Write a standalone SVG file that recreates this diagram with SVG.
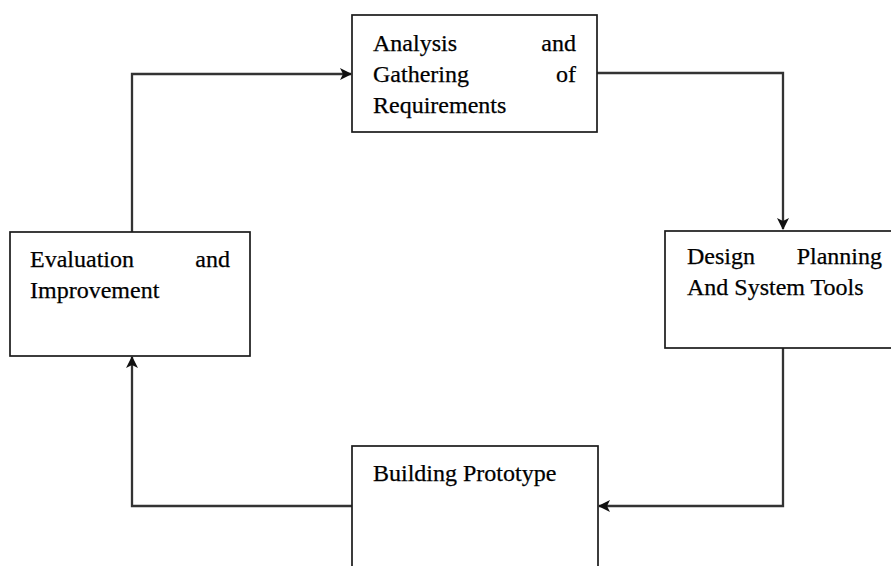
<svg xmlns="http://www.w3.org/2000/svg" width="891" height="566" viewBox="0 0 891 566">
<style>
.box{fill:#fff;stroke:#1a1a1a;stroke-width:1.7}
.t{font-family:"Liberation Serif","Times New Roman",serif;font-size:24px;fill:#000;stroke:#000;stroke-width:0.25}
.e{text-anchor:end}
.c{fill:none;stroke:#333;stroke-width:2.3}
</style>
<defs>
<marker id="ah" viewBox="0 0 12 12" refX="11" refY="6" markerWidth="12" markerHeight="12" markerUnits="userSpaceOnUse" orient="auto">
<path d="M0,0 L12,6 L0,12 L3,6 Z" fill="#111"/>
</marker>
</defs>
<rect width="891" height="566" fill="#fff"/>
<g id="connectors">
<path class="c" d="M132,232 V74 H351" marker-end="url(#ah)"/>
<path class="c" d="M597,73 H783 V229" marker-end="url(#ah)"/>
<path class="c" d="M783,348 V506 H599" marker-end="url(#ah)"/>
<path class="c" d="M352,506 H132 V357" marker-end="url(#ah)"/>
</g>
<g id="analysis">
<rect class="box" x="352" y="15" width="245" height="117"/>
<text class="t" x="373" y="51">Analysis</text>
<text class="t e" x="576" y="51">and</text>
<text class="t" x="373" y="82">Gathering</text>
<text class="t e" x="576" y="82">of</text>
<text class="t" x="373" y="113">Requirements</text>
</g>
<g id="design">
<rect class="box" x="665" y="231" width="240" height="117"/>
<text class="t" x="687" y="264">Design</text>
<text class="t e" x="882" y="264">Planning</text>
<text class="t" x="687" y="295">And System Tools</text>
</g>
<g id="evaluation">
<rect class="box" x="10" y="232" width="240" height="124"/>
<text class="t" x="30" y="267">Evaluation</text>
<text class="t e" x="230" y="267">and</text>
<text class="t" x="30" y="298">Improvement</text>
</g>
<g id="building">
<rect class="box" x="352" y="446" width="246" height="140"/>
<text class="t" x="373" y="481">Building Prototype</text>
</g>
</svg>
